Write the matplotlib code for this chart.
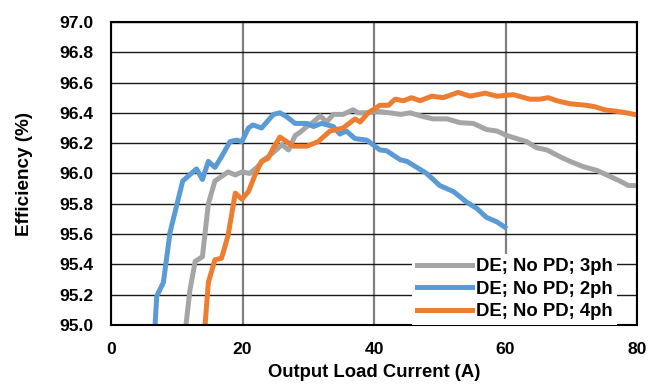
import numpy as np
import matplotlib.pyplot as plt

# datos
x_3ph = [11.4, 12.0, 12.8, 13.9, 14.8, 15.8, 17.8, 18.9, 19.9, 21.1, 22.2, 23.2, 23.9,
         24.7, 26.0, 27.0, 28.0, 28.7, 29.8, 30.8, 31.8, 32.8, 33.8, 35.3, 36.8, 37.6,
         38.9, 40.4, 42.4, 44.0, 45.5, 47.5, 49.0, 51.1, 53.1, 55.1, 57.1, 58.7, 60.2,
         61.7, 63.2, 64.7, 66.3, 68.3, 69.8, 71.8, 73.9, 75.9, 77.4, 78.7, 79.7]
y_3ph = [95.0, 95.23, 95.42, 95.45, 95.80, 95.95, 96.01, 95.99, 96.01, 96.0, 96.04, 96.09, 96.11,
         96.14, 96.19, 96.155, 96.25, 96.27, 96.31, 96.34, 96.38, 96.34, 96.39, 96.39, 96.42, 96.40,
         96.40, 96.41, 96.40, 96.39, 96.40, 96.375, 96.36, 96.36, 96.335, 96.33, 96.29, 96.28, 96.25,
         96.23, 96.21, 96.17, 96.155, 96.11, 96.08, 96.045, 96.02, 95.98, 95.95, 95.92, 95.92]

x_2ph = [6.7, 6.95, 7.96, 8.97, 10.9, 13.0, 13.9, 14.8, 15.8, 16.8, 18.1, 19.1, 19.9, 20.9,
         21.6, 22.9, 24.7, 25.7, 26.7, 28.0, 29.8, 30.8, 32.0, 33.8, 34.8, 35.8, 37.1, 38.9,
         40.9, 41.9, 44.0, 45.0, 48.0, 50.0, 52.1, 54.1, 55.6, 57.1, 58.7, 59.9]
y_2ph = [95.0, 95.19, 95.28, 95.61, 95.95, 96.03, 95.96, 96.08, 96.04, 96.11, 96.21, 96.22, 96.21, 96.30,
         96.32, 96.30, 96.39, 96.40, 96.375, 96.33, 96.33, 96.31, 96.33, 96.31, 96.26, 96.28, 96.23, 96.22,
         96.155, 96.15, 96.09, 96.08, 96.0, 95.92, 95.88, 95.81, 95.77, 95.71, 95.68, 95.645]

x_4ph = [14.3, 14.8, 15.8, 16.8, 17.8, 18.9, 19.9, 20.9, 21.9, 22.9, 23.9, 24.7, 25.7, 26.7,
         27.7, 29.8, 31.5, 33.3, 35.3, 37.1, 37.9, 39.1, 40.9, 42.2, 43.2, 44.5, 45.7, 47.0,
         48.8, 50.5, 52.8, 54.6, 56.9, 58.7, 61.2, 63.7, 65.2, 66.5, 67.8, 69.8, 72.3, 73.6,
         75.1, 76.9, 78.4, 80.1]
y_4ph = [95.0, 95.28, 95.43, 95.44, 95.59, 95.87, 95.83, 95.88, 95.99, 96.08, 96.10, 96.17, 96.24, 96.21,
         96.18, 96.18, 96.21, 96.28, 96.30, 96.36, 96.34, 96.40, 96.45, 96.45, 96.49, 96.48, 96.50, 96.48,
         96.51, 96.50, 96.535, 96.51, 96.53, 96.51, 96.52, 96.49, 96.49, 96.50, 96.48, 96.46, 96.45, 96.44,
         96.42, 96.41, 96.40, 96.385]

etiquetas = ['DE; No PD; 3ph', 'DE; No PD; 2ph', 'DE; No PD; 4ph']
colores = ['#A5A5A5', '#5B9BD5', '#ED7D31']
xticks = [0, 20, 40, 60, 80]
yticks = np.arange(95.0, 97.01, 0.2)

plt.rcParams['font.family'] = ['Liberation Sans', 'DejaVu Sans']
plt.rcParams['font.weight'] = 'bold'

fig = plt.figure(figsize=(6.57, 3.85), dpi=100)
ax = fig.add_axes([0.169, 0.156, 0.8006, 0.787])

ax.plot(x_3ph, y_3ph, color=colores[0], linewidth=3.6, label=etiquetas[0])
ax.plot(x_2ph, y_2ph, color=colores[1], linewidth=3.6, label=etiquetas[1])
ax.plot(x_4ph, y_4ph, color=colores[2], linewidth=3.6, label=etiquetas[2])

ax.set_xlim(0, 80)
ax.set_ylim(95.0, 97.0)
ax.set_xticks(xticks)
ax.set_yticks(yticks)
ax.set_yticklabels([f'{v:.1f}' for v in yticks])
ax.tick_params(length=0, labelsize=12.6)
ax.tick_params(axis='y', pad=12.5)
ax.tick_params(axis='x', pad=12)
# rejilla: horizontales negras, verticales grises
ax.yaxis.grid(True, color='#1a1a1a', linewidth=1)
ax.xaxis.grid(True, color='#808080', linewidth=1.6)
ax.set_axisbelow(True)
for s in ax.spines.values():
    s.set_color('black')
    s.set_linewidth(1.5)

ax.set_xlabel('Output Load Current (A)', fontsize=13.3, fontweight='bold', labelpad=5.5)
ax.set_ylabel('Efficiency (%)', fontsize=13.6, fontweight='bold', labelpad=19)

leg = ax.legend(loc='lower right', bbox_to_anchor=(0.962, 0.0), fontsize=13.3,
                frameon=True, fancybox=False, handlelength=3.0, handletextpad=0.2,
                labelspacing=0.3, borderaxespad=0.0, borderpad=0.25)
leg.get_frame().set_edgecolor('none')
leg.get_frame().set_facecolor('white')
leg.get_frame().set_alpha(1)

plt.savefig('out.png', dpi=100)
